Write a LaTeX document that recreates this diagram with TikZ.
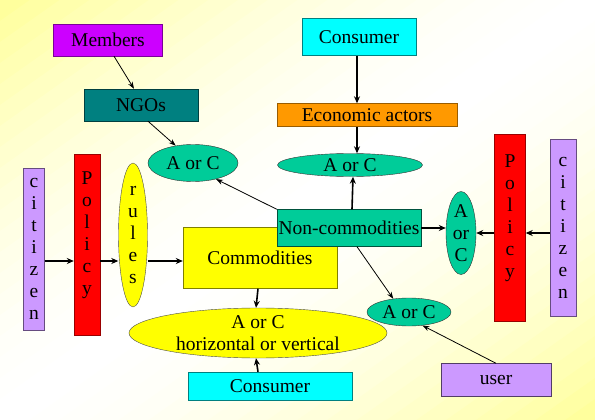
\documentclass[tikz,border=0pt]{standalone}
\usepackage{fontspec}
\setmainfont{Liberation Serif}
\usetikzlibrary{shapes.geometric, arrows.meta, positioning}
\definecolor{bgyel}{HTML}{FFFF99}
\definecolor{purp}{HTML}{CC00FF}
\definecolor{ngoteal}{HTML}{008080}
\definecolor{acgreen}{HTML}{00CC99}
\definecolor{cyanbox}{HTML}{00FFFF}
\definecolor{ecoorange}{HTML}{FF9900}
\definecolor{polred}{HTML}{FF0000}
\definecolor{lav}{HTML}{CC99FF}
\definecolor{yel}{HTML}{FFFF00}

\begin{document}
\begin{tikzpicture}[
  x=1pt, y=-1pt,
  txt/.style={font=\fontsize{19.5}{22}\selectfont, align=center},
  box/.style={txt, rectangle, draw, inner sep=0pt},
  oval/.style={txt, ellipse, draw=black!80, fill=acgreen, inner sep=0pt},
  thickarr/.style={-{Stealth[length=7pt, width=6pt]}, line width=1.6pt},
  thinarr/.style={-{Stealth[length=7pt, width=5pt]}, line width=0.8pt}
]
  \useasboundingbox (0,0) rectangle (595,420);
  % background: yellow in two corners, white across the middle
  \begin{scope}
    \clip (0,0) rectangle (595,420);
    \foreach \i in {0,...,39} {
      \pgfmathsetmacro{\sa}{\i/20}
      \pgfmathsetmacro{\sb}{(\i+1)/20+0.01}
      \pgfmathsetmacro{\mix}{abs((\i+0.5)/20-1)^1.6*100}
      \fill[bgyel!\mix!white] (\sa*595,0) -- (\sb*595,0) -- (0,\sb*420) -- (0,\sa*420) -- cycle;
    }
  \end{scope}

  % top left group
  \node[box, fill=purp, draw=purp!60!black, minimum width=109pt, minimum height=32pt] (mem) at (108,40) {Members};
  \node[box, fill=ngoteal, draw=ngoteal!50!black, minimum width=114pt, minimum height=32pt] (ngo) at (141,105) {NGOs};
  \node[oval, minimum width=90pt, minimum height=37pt] (lac) at (193,163) {A or C};

  % top middle group
  \node[box, fill=cyanbox, draw=ngoteal, minimum width=114pt, minimum height=37pt] (constop) at (359,37) {Consumer};
  \node[box, fill=ecoorange, draw=ecoorange!60!black, minimum width=180pt, minimum height=23pt] (eco) at (367,115) {Economic actors};
  \node[oval, minimum width=145pt, minimum height=23pt] (mac) at (350,165) {A or C};

  % left chain
  \node[box, fill=lav, draw=lav!50!black, minimum width=21pt, minimum height=162pt] (citl) at (34,249) {c\\i\\t\\i\\z\\e\\n};
  \node[box, fill=polred, draw=polred!60!black, minimum width=26pt, minimum height=181pt,
        label={[txt, yshift=10pt]center:P\\o\\l\\i\\c\\y}] (poll) at (87,245) {};
  \node[txt, ellipse, draw=black!70, fill=yel, inner sep=0pt, minimum width=29pt, minimum height=144pt] (rul) at (133,235) {r\\u\\l\\e\\s};
  \node[box, fill=yel, draw=yel!50!black, minimum width=154pt, minimum height=61pt] (comm) at (260,258) {Commodities};
  \node[box, fill=acgreen, draw=acgreen!40!black, minimum width=144pt, minimum height=37pt] (noncom) at (349,228) {Non-commodities};
  \node[txt, ellipse, draw=black!70, fill=yel, inner sep=0pt, minimum width=258pt, minimum height=50pt] (hov) at (258,333) {A or C\\horizontal or vertical};
  \node[box, fill=cyanbox, draw=ngoteal, minimum width=164pt, minimum height=28pt] (consbot) at (270,386) {Consumer};

  % right chain
  \node[oval, minimum width=30pt, minimum height=83pt] (rac) at (461,233) {A\\or\\C};
  \node[box, fill=polred, draw=polred!60!black, minimum width=31pt, minimum height=187pt,
        label={[txt, yshift=10pt]center:P\\o\\l\\i\\c\\y}] (polr) at (510,228) {};
  \node[box, fill=lav, draw=lav!50!black, minimum width=26pt, minimum height=177pt] (citr) at (563,228) {c\\i\\t\\i\\z\\e\\n};
  \node[oval, minimum width=84pt, minimum height=28pt] (lrac) at (409,312) {A or C};
  \node[box, fill=lav, draw=lav!40!black, minimum width=110pt, minimum height=33pt] (usr) at (496,380) {user};

  % arrows
  \draw[thinarr] ([xshift=6pt]mem.south) -- ([xshift=-7pt]ngo.north);
  \draw[thinarr] ([xshift=7pt]ngo.south) -- (lac.135);
  \draw[thinarr] (noncom.north west) -- (lac.-35);
  \draw[thickarr] ([xshift=-2pt]constop.south) -- ([xshift=-2pt]constop.south |- eco.north);
  \draw[thickarr] ([xshift=-2pt]constop.south |- eco.south) -- ([xshift=-2pt]constop.south |- mac.north);
  \draw[thickarr] ([xshift=3pt]noncom.north) -- ([xshift=3pt]mac.south);
  \draw[thickarr] (noncom.east) -- (noncom.east -| rac.west);
  \draw[thickarr] (rac.east -| polr.west) -- (rac.east);
  \draw[thickarr] (rac.east -| citr.west) -- (rac.east -| polr.east);
  \coordinate (row) at (0,261);
  \draw[thickarr] (row -| citl.east) -- (row -| poll.west);
  \draw[thickarr] (row -| poll.east) -- (row -| rul.west);
  \draw[thickarr] (row -| rul.east) -- (row -| comm.west);
  \draw[thickarr] ([xshift=-2pt]comm.south) -- ([xshift=-2pt]hov.north);
  \draw[thickarr] ([xshift=-2pt]comm.south |- consbot.north) -- ([xshift=-2pt]hov.south);
  \draw[thinarr] ([xshift=8pt]noncom.south) -- (lrac.140);
  \draw[thinarr] (usr.north) -- (lrac.-45);
\end{tikzpicture}
\end{document}
